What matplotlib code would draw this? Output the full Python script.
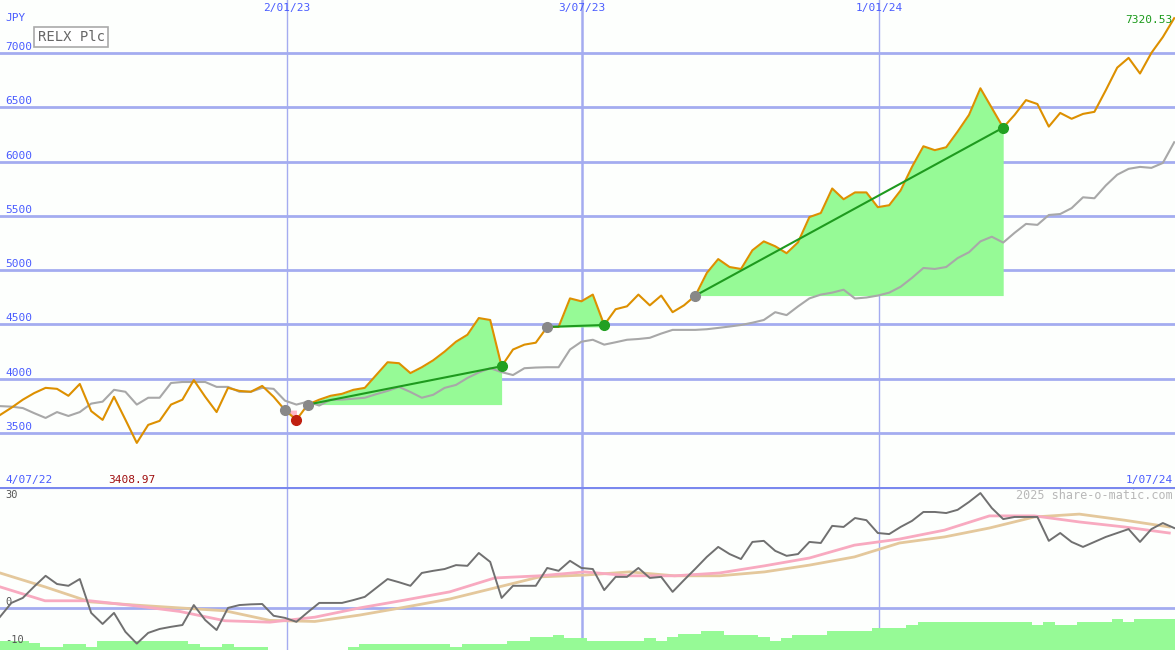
import matplotlib.pyplot as plt
import numpy as np

# weekly closes, 4/07/22 .. 1/07/24
price = [3666, 3733, 3807, 3868, 3916, 3907, 3843, 3952, 3702, 3621,
         3834, 3623, 3409, 3575, 3612, 3762, 3807, 3988, 3834, 3693,
         3916, 3888, 3880, 3934, 3834, 3711, 3621, 3762, 3807, 3843,
         3861, 3898, 3916, 4034, 4152, 4143, 4052, 4106, 4170, 4250,
         4341, 4405, 4559, 4541, 4115, 4269, 4314, 4332, 4477, 4477,
         4740, 4713, 4775, 4495, 4640, 4667, 4775, 4676, 4766, 4613,
         4676, 4766, 4974, 5102, 5029, 5011, 5183, 5265, 5220, 5156,
         5256, 5489, 5526, 5752, 5653, 5716, 5716, 5580, 5598, 5734,
         5951, 6141, 6105, 6132, 6276, 6430, 6675, 6494, 6313, 6430,
         6566, 6530, 6322, 6448, 6394, 6439, 6458, 6657, 6865, 6955,
         6811, 7001, 7146, 7320.53]
index_line = [3748, 3743, 3730, 3683, 3639, 3693, 3657, 3693, 3771, 3789,
              3898, 3880, 3762, 3825, 3825, 3961, 3970, 3970, 3970, 3925,
              3925, 3880, 3880, 3916, 3907, 3798, 3762, 3789, 3753, 3807,
              3808, 3816, 3825, 3858, 3888, 3925, 3878, 3825, 3852, 3916,
              3943, 4007, 4058, 4097, 4061, 4034, 4097, 4103, 4106, 4106,
              4269, 4341, 4359, 4314, 4336, 4359, 4366, 4377, 4416, 4450,
              4450, 4450, 4456, 4468, 4481, 4495, 4516, 4541, 4613, 4586,
              4666, 4740, 4775, 4793, 4820, 4739, 4748, 4766, 4793, 4847,
              4929, 5020, 5011, 5029, 5111, 5165, 5265, 5308, 5254, 5344,
              5426, 5417, 5508, 5517, 5571, 5671, 5662, 5780, 5879, 5933,
              5951, 5942, 5987, 6178]
osc = [-2.5, 1.4, 2.8, 6, 9, 6.7, 6.2, 8.1, -1.4, -4.5,
       -1.4, -6.7, -10, -7, -5.9, -5.3, -4.8, 0.8, -3.4, -6.2,
       0, 0.8, 1, 1.1, -2.2, -2.8, -3.9, -1.2, 1.4, 1.4,
       1.4, 2.2, 3.1, 5.6, 8.1, 7.2, 6.2, 9.8, 10.4, 10.9,
       12, 11.8, 15.4, 12.9, 2.8, 6.2, 6.2, 6.2, 11.2, 10.4,
       13.2, 11.2, 10.9, 5, 8.7, 8.7, 11.2, 8.4, 8.7, 4.5,
       7.8, 11, 14.3, 17.1, 15.1, 13.7, 18.5, 18.8, 16, 14.6,
       15.1, 18.5, 18.2, 23, 22.7, 25.2, 24.6, 21, 20.7, 22.7,
       24.4, 26.9, 26.9, 26.6, 27.5, 29.7, 32.2, 28, 24.9, 25.5,
       25.5, 25.5, 18.8, 21, 18.5, 17.1, 18.5, 19.9, 21, 22.1,
       18.5, 22.1, 23.8, 22.4]
ma_weeks = [i * 3.945 for i in range(27)]
ma_fast = [5.9, 2, 2, 0.6, -1, -3.6, -4, -2.6, 0, 2.2, 4.5, 8.4, 9, 10.1,
           9, 9, 9.8, 11.8, 14, 17.6, 19.3, 21.8, 25.8, 25.8, 24.1, 22.7, 21]
ma_slow = [9.8, 5.9, 1.7, 0.8, 0, -0.8, -3.5, -3.8, -2, 0.2, 2.5, 5.6, 8.7,
           9.2, 10.1, 9, 9, 10.1, 12, 14.3, 18.2, 19.9, 22.4, 25.5, 26.3, 24.6, 22.7]
volume = [9, 9, 9, 7, 3, 3, 6, 6, 3, 9, 9, 9, 9, 9, 9, 9, 9, 6, 3, 3,
          6, 3, 3, 3, 0, 0, 0, 0, 0, 0, 0, 3, 6, 6, 6, 6, 6, 6, 6, 6,
          3, 6, 6, 6, 6, 9, 9, 13, 13, 15, 12, 12, 9, 9, 9, 9, 9, 12, 9, 13,
          16, 16, 19, 19, 15, 15, 15, 13, 9, 12, 15, 15, 15, 19, 19, 19, 19, 22, 22, 22,
          25, 28, 28, 28, 28, 28, 28, 28, 28, 28, 28, 25, 28, 25, 25, 28, 28, 28, 31, 28,
          31, 31, 31, 31]
# (start week, end week) of the trade signals
trades = [(27, 44), (48, 53), (61, 88)]
date_lines = [25.18, 51.05, 77.1]
date_labels = ['2/01/23', '3/07/23', '1/01/24']
price_ticks = [3500, 4000, 4500, 5000, 5500, 6000, 6500, 7000]

BG = '#fdfffd'
GRID = '#a4acf0'
BLUE = '#4a5cff'
ORANGE = '#dd9000'
MONO = 'DejaVu Sans Mono'

x = np.arange(len(price))
p = np.array(price)
XMAX = 103.07
PTOP, PBOT = 7488, 3003
OTOP, OBOT = 33.9, -11.8

fig = plt.figure(figsize=(11.75, 6.5), dpi=100, facecolor=BG)
ax = fig.add_axes([0, 163 / 650, 1, 487 / 650], facecolor=BG)
ax2 = fig.add_axes([0, 0, 1, 163 / 650], facecolor=BG)
for a in (ax, ax2):
    a.set_xlim(0, XMAX)
    a.set_xticks([])
    a.set_yticks([])
    for s in a.spines.values():
        s.set_visible(False)
ax.set_ylim(PBOT, PTOP)
ax2.set_ylim(OBOT, OTOP)

for v in price_ticks:
    ax.axhline(v, color=GRID, lw=2, zorder=1)
    ax.text(0.5, v + 55, str(v), color=BLUE, fontsize=8, family=MONO, va='center')
for i, (d, lab) in enumerate(zip(date_lines, date_labels)):
    w = 1.8 if i == 1 else 1
    ax.axvline(d, color=GRID, lw=w, zorder=1)
    ax2.axvline(d, color=GRID, lw=w, zorder=1)
    ax.text(d, PTOP - 75, lab, color=BLUE, fontsize=8, family=MONO, ha='center', va='center')
ax.text(0.5, PTOP - 166, 'JPY', color=BLUE, fontsize=8, family=MONO, va='center')
ax.text(3.3, PTOP - 341, 'RELX Plc', color='#666666', fontsize=10, family=MONO,
        va='center', bbox=dict(boxstyle='square,pad=0.25', fc='white', ec='#aaaaaa', lw=1.2))

# trade shading and lines
for s, e in trades:
    seg = x[s:e + 1]
    base = p[s]
    ax.fill_between(seg, base, p[s:e + 1], where=p[s:e + 1] >= base,
                    interpolate=True, color='#96fa96', lw=0, zorder=2)
    ax.plot([s, e], [p[s], p[e]], color='#1e9a1e', lw=1.5, zorder=4)
ax.fill_between([25, 26], [p[25], p[25]], [p[25], p[26]], color='#ffb6c8', lw=0, zorder=2)

ax.plot(x, index_line, color='#a8a8a8', lw=1.5, zorder=3)
ax.plot(x, p, color=ORANGE, lw=1.5, zorder=3)
for wk in (25, 27, 48, 61):
    ax.plot(wk, p[wk], 'o', color='#888888', ms=7, zorder=5)
ax.plot(26, p[26], 'o', color='#c02010', ms=7, zorder=5)
for _, e in trades:
    ax.plot(e, p[e], 'o', color='#22a022', ms=7, zorder=5)

ax.text(0.5, PBOT + 64, '4/07/22', color=BLUE, fontsize=8, family=MONO, va='center')
ax.text(9.5, PBOT + 64, '3408.97', color='#a01010', fontsize=8, family=MONO, va='center')
ax.text(XMAX - 0.2, PBOT + 64, '1/07/24', color=BLUE, fontsize=8, family=MONO, ha='right', va='center')
ax.text(XMAX - 0.2, PTOP - 184, '7320.53', color='#1a9a1a', fontsize=8, family=MONO, ha='right', va='center')

# oscillator panel
ax2.axhline(OTOP, color='#7a88ee', lw=3, zorder=6)
ax2.axhline(0, color=GRID, lw=2, zorder=1)
vol_units = np.array(volume) / 3.57
ax2.bar(x, vol_units, bottom=OBOT, width=1.0, color='#96fa96', lw=0, zorder=2)
ax2.plot(ma_weeks, ma_slow, color='#e4c89c', lw=2, zorder=3)
ax2.plot(ma_weeks, ma_fast, color='#f8aac0', lw=2, zorder=3)
ax2.plot(x, osc, color='#707070', lw=1.4, zorder=4)
ax2.text(0.5, 31.7, '30', color='#555555', fontsize=7.5, family=MONO, va='center')
ax2.text(0.5, 1.7, '0', color='#555555', fontsize=7.5, family=MONO, va='center')
ax2.text(0.5, -9, '-10', color='#555555', fontsize=7.5, family=MONO, va='center')
ax2.text(XMAX - 0.2, 31.4, '2025 share-o-matic.com', color='#b8b8b8', fontsize=8.5,
         family=MONO, ha='right', va='center')

fig.savefig('out.png', dpi=100, facecolor=BG)
